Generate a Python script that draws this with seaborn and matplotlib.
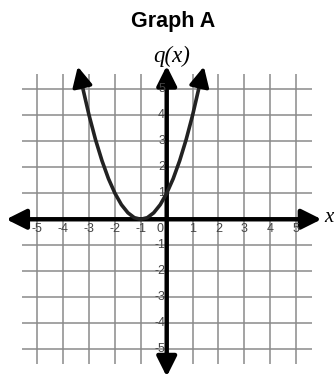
import matplotlib
matplotlib.use("Agg")
import matplotlib.pyplot as plt
import seaborn as sns
import pandas as pd

# values
x_vals = [-3.3, -3.0, -2.75, -2.5, -2.25, -2.0, -1.75, -1.5, -1.25, -1.0,
          -0.75, -0.5, -0.25, 0.0, 0.25, 0.5, 0.75, 1.0, 1.3]
q_vals = [5.29, 4.0, 3.06, 2.25, 1.56, 1.0, 0.56, 0.25, 0.06, 0.0,
          0.06, 0.25, 0.56, 1.0, 1.56, 2.25, 3.06, 4.0, 5.29]
ticks = [-5, -4, -3, -2, -1, 1, 2, 3, 4, 5]
grid_lines = [-5, -4, -3, -2, -1, 0, 1, 2, 3, 4, 5]

df = pd.DataFrame({"x": x_vals, "q": q_vals})

sns.set_theme(style="white")
plt.rcParams['font.family'] = ['Liberation Sans', 'DejaVu Sans']

fig = plt.figure(figsize=(3.36, 3.8), dpi=100)
ax = fig.add_axes([0, 0, 1, 1])
ax.set_xlim(-6.44, 6.54)
ax.set_ylim(-6.18, 8.43)
ax.axis("off")

# grid
ax.vlines(grid_lines, -5.55, 5.6, color="#8a8a8a", lw=1.1, zorder=1)
ax.hlines(grid_lines, -5.6, 5.6, color="#8a8a8a", lw=1.1, zorder=1)

# axes with arrows
head = "head_length=1.0,head_width=0.5"
ax.annotate("", xy=(5.98, 0), xytext=(-6.2, 0),
            arrowprops=dict(arrowstyle="<|-|>," + head,
                            color="black", lw=3.2, shrinkA=0, shrinkB=0), zorder=3)
ax.annotate("", xy=(0, 5.9), xytext=(0, -6.05),
            arrowprops=dict(arrowstyle="<|-|>," + head,
                            color="black", lw=3.2, shrinkA=0, shrinkB=0), zorder=3)

# curve
sns.lineplot(data=df, x="x", y="q", ax=ax, color="#222222", lw=2.6,
             sort=False, zorder=4)
for i0, i1 in [(1, 0), (-2, -1)]:
    x0, y0 = x_vals[i0], q_vals[i0]
    x1, y1 = x_vals[i1], q_vals[i1]
    dx, dy = x1 - x0, y1 - y0
    ax.annotate("", xy=(x1 + dx * 0.45, y1 + dy * 0.45), xytext=(x1, y1),
                arrowprops=dict(arrowstyle="-|>," + head,
                                color="black", lw=2.6, shrinkA=0, shrinkB=0),
                zorder=5)

# tick labels
lab = dict(fontsize=9, color="#444444")
for t in ticks:
    ax.text(t, -0.38, str(t), ha="center", va="center", **lab)
    ax.text(-0.06, t, str(t), ha="right", va="center", **lab)
ax.text(-0.25, -0.38, "0", ha="center", va="center", **lab)

# labels
ax.text(0.25, 7.6, "Graph A", ha="center", va="center", fontsize=15.5,
        fontweight="bold", color="black")
ax.text(0.2, 6.25, "q(x)", ha="center", va="center", fontsize=16.5,
        family=["Liberation Serif", "DejaVu Serif"], style="italic", color="black")
ax.text(6.08, 0.05, "x", ha="left", va="center", fontsize=15,
        family=["Liberation Serif", "DejaVu Serif"], style="italic", color="black")

fig.savefig("out.png", dpi=100)
